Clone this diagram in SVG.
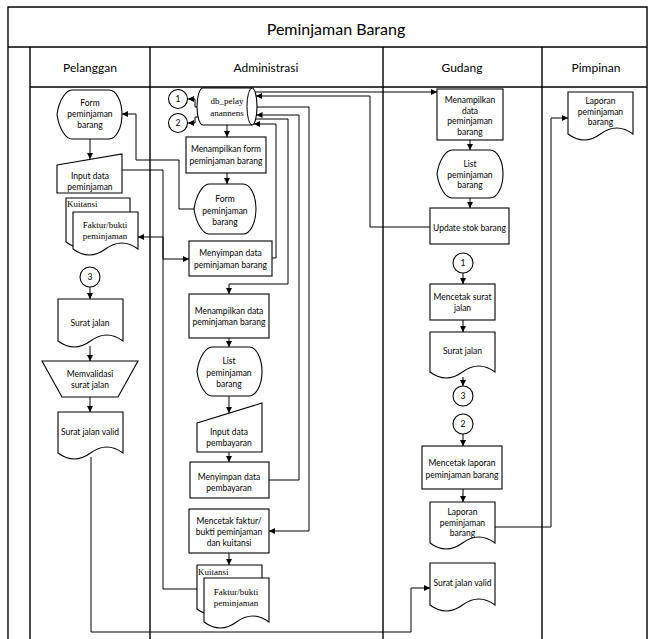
<svg xmlns="http://www.w3.org/2000/svg" width="649" height="639" viewBox="0 0 649 639">
<style>
.t{font-family:Lato,"Open Sans",sans-serif;font-size:8.5px;text-anchor:middle;dominant-baseline:central;fill:#000}
.s{font-family:"Liberation Serif",serif;font-size:9px;text-anchor:middle;dominant-baseline:central;fill:#000}
.k{font-family:"Liberation Serif",serif;font-size:9px;dominant-baseline:central;fill:#000}
.h{font-family:Lato,"Open Sans",sans-serif;font-size:12px;text-anchor:middle;dominant-baseline:central;fill:#000}
.sh{fill:#fff;stroke:#000;stroke-width:1.1}
.ln{fill:none;stroke:#000;stroke-width:1}
.lane{fill:none;stroke:#000;stroke-width:1.4}
</style>
<defs>
<marker id="ar" markerUnits="userSpaceOnUse" markerWidth="7" markerHeight="6" refX="6" refY="3" orient="auto">
<path d="M0,0 L6,3 L0,6 Z" fill="#000"/>
</marker>
</defs>
<rect width="649" height="639" fill="#fff"/>
<g id="frame">
<path class="lane" d="M8,645 V7 H647 V645 M8,47 H647 M30,87 H647 M30,47 V645 M150,47 V645 M383,47 V645 M542,47 V645"/>
<text x="336" y="28" class="h" style="font-size:16px">Peminjaman Barang</text>
<text x="90" y="67" class="h">Pelanggan</text>
<text x="266" y="67" class="h">Administrasi</text>
<text x="462" y="67" class="h">Gudang</text>
<text x="596" y="67" class="h">Pimpinan</text>
</g>
<g id="connectors" class="ln" marker-end="url(#ar)">
<path d="M90,139 V159"/>
<path d="M122,170 H163 V259 H189"/>
<path d="M194,209 H179 V160 H136 V114 H122"/>
<path d="M197,589 H163 V237 H138"/>
<path d="M90,287 V299"/>
<path d="M90,346 V361"/>
<path d="M90,397 V412"/>
<path d="M91,457 V632 H411 V588 H430"/>
<path d="M198,107 H195 V99 H188"/>
<path d="M198,117 H195 V123 H188"/>
<path d="M227,125 V137"/>
<path d="M227,173 V184"/>
<path d="M272,258 H276 V124 H254"/>
<path d="M256,119 H288 V284 H229 V294"/>
<path d="M269,480 H299 V115 H256.5"/>
<path d="M257,107 H309 V531 H269"/>
<path d="M255,92 H437"/>
<path d="M430,227 H370 V96 H256"/>
<path d="M229,338 V347"/>
<path d="M229,396 V413"/>
<path d="M229,452 V462"/>
<path d="M229,553 V565"/>
<path d="M470,140 V150"/>
<path d="M470,198 V208"/>
<path d="M463,273 V284"/>
<path d="M463,320 V332"/>
<path d="M463,377 V386"/>
<path d="M463,434 V446"/>
<path d="M463,489 V502"/>
<path d="M495,527 H551 V118 H568"/>
</g>
<g id="pel-form">
<path class="sh" d="M57,114.5 C59,100 66,90 72,90 H109 A13 24.5 0 0 1 109,139 H72 C66,139 59,129 57,114.5 Z"/>
<text class="t" x="90" y="103">Form</text><text class="t" x="90" y="114">peminjaman</text><text class="t" x="90" y="125">barang</text>
</g>
<g id="pel-input">
<path class="sh" d="M57,165 L122,154 V193 H57 Z"/>
<text class="t" x="90" y="176">Input data</text><text class="t" x="90" y="187">peminjaman</text>
</g>
<g id="pel-faktur">
<path class="sh" d="M66,198 H130 V242 Q114,230 98,242 T66,242 Z"/>
<path class="sh" d="M73,212 H138 V249 Q121.75,237 105.5,249 T73,249 Z"/>
<text class="k" x="67" y="204">Kuitansi</text>
<text class="s" x="105" y="225">Faktur/bukti</text><text class="s" x="105" y="236">peminjaman</text>
</g>
<g id="pel-c3">
<circle class="sh" cx="90" cy="277" r="10"/><text class="t" x="90" y="277">3</text>
</g>
<g id="pel-suratjalan">
<path class="sh" d="M58,299 H123 V341 Q106.75,329 90.5,341 T58,341 Z"/>
<text class="t" x="90" y="323">Surat jalan</text>
</g>
<g id="pel-validasi">
<path class="sh" d="M42,361 H138 L118,397 H62 Z"/>
<text class="t" x="90" y="374">Memvalidasi</text><text class="t" x="90" y="385">surat jalan</text>
</g>
<g id="pel-valid">
<path class="sh" d="M58,412 H123 V453 Q106.75,441 90.5,453 T58,453 Z"/>
<text class="t" x="90" y="432">Surat jalan valid</text>
</g>
<g id="adm-c1"><circle class="sh" cx="178" cy="99" r="9.5"/><text class="t" x="178" y="99">1</text></g>
<g id="adm-c2"><circle class="sh" cx="178" cy="123" r="9.5"/><text class="t" x="178" y="123">2</text></g>
<g id="adm-db">
<path class="sh" d="M203,88 H252 A5 18.5 0 0 1 252,125 H203 A6 18.5 0 0 1 203,88 Z"/>
<path class="ln" d="M252,88 A5 18.5 0 0 0 252,125"/>
<text class="s" x="227" y="101">db_pelay</text><text class="s" x="227" y="113">anannens</text>
</g>
<g id="adm-tampilform">
<rect class="sh" x="186" y="137" width="80" height="36"/>
<text class="t" x="226" y="149">Menampilkan form</text><text class="t" x="226" y="161">peminjaman barang</text>
</g>
<g id="adm-form">
<path class="sh" d="M194,209 C196,195 203,184 209,184 H243 A13 25 0 0 1 243,234 H209 C203,234 196,223 194,209 Z"/>
<text class="t" x="225" y="199">Form</text><text class="t" x="225" y="211">peminjaman</text><text class="t" x="225" y="222">barang</text>
</g>
<g id="adm-simpan">
<rect class="sh" x="189" y="241" width="83" height="35"/>
<text class="t" x="230.5" y="253">Menyimpan data</text><text class="t" x="230.5" y="265">peminjaman barang</text>
</g>
<g id="adm-tampildata">
<rect class="sh" x="189" y="294" width="80" height="44"/>
<text class="t" x="229" y="311">Menampilkan data</text><text class="t" x="229" y="322">peminjaman barang</text>
</g>
<g id="adm-list">
<path class="sh" d="M197,371.5 C199,357 206,347 212,347 H249 A13 24.5 0 0 1 249,396 H212 C206,396 199,386 197,371.5 Z"/>
<text class="t" x="229" y="361">List</text><text class="t" x="229" y="373">peminjaman</text><text class="t" x="229" y="384">barang</text>
</g>
<g id="adm-input">
<path class="sh" d="M197,423 L262,403 V452 H197 Z"/>
<text class="t" x="229" y="432">Input data</text><text class="t" x="229" y="443">pembayaran</text>
</g>
<g id="adm-simpanbayar">
<rect class="sh" x="190" y="462" width="79" height="36"/>
<text class="t" x="229" y="477">Menyimpan data</text><text class="t" x="229" y="488">pembayaran</text>
</g>
<g id="adm-cetak">
<rect class="sh" x="189" y="509" width="80" height="44"/>
<text class="t" x="229" y="521">Mencetak faktur/</text><text class="t" x="229" y="532">bukti peminjaman</text><text class="t" x="229" y="543">dan kuitansi</text>
</g>
<g id="adm-faktur">
<path class="sh" d="M197,565 H262 V609 Q245.75,597 229.5,609 T197,609 Z"/>
<path class="sh" d="M204,578 H269 V622 Q252.75,610 236.5,622 T204,622 Z"/>
<text class="k" x="198" y="572">Kuitansi</text>
<text class="s" x="236" y="592">Faktur/bukti</text><text class="s" x="236" y="603">peminjaman</text>
</g>
<g id="gud-tampil">
<rect class="sh" x="437" y="89" width="66" height="51"/>
<text class="t" x="470" y="100">Menampilkan</text><text class="t" x="470" y="111">data</text><text class="t" x="470" y="121">peminjaman</text><text class="t" x="470" y="132">barang</text>
</g>
<g id="gud-list">
<path class="sh" d="M437,174 C439,160 446,150 452,150 H490 A13 24 0 0 1 490,198 H452 C446,198 439,188 437,174 Z"/>
<text class="t" x="470" y="164">List</text><text class="t" x="470" y="175">peminjaman</text><text class="t" x="470" y="185">barang</text>
</g>
<g id="gud-update">
<rect class="sh" x="430" y="208" width="79" height="36"/>
<text class="t" x="469.5" y="228">Update stok barang</text>
</g>
<g id="gud-c1"><circle class="sh" cx="463" cy="263" r="10"/><text class="t" x="463" y="263">1</text></g>
<g id="gud-cetaksj">
<rect class="sh" x="430" y="284" width="65" height="36"/>
<text class="t" x="462.5" y="297">Mencetak surat</text><text class="t" x="462.5" y="308">jalan</text>
</g>
<g id="gud-sj">
<path class="sh" d="M430,332 H495 V372 Q478.75,360 462.5,372 T430,372 Z"/>
<text class="t" x="462.5" y="351">Surat jalan</text>
</g>
<g id="gud-c3"><circle class="sh" cx="463" cy="396" r="10"/><text class="t" x="463" y="396">3</text></g>
<g id="gud-c2"><circle class="sh" cx="463" cy="424" r="10"/><text class="t" x="463" y="424">2</text></g>
<g id="gud-cetaklap">
<rect class="sh" x="422" y="446" width="80" height="43"/>
<text class="t" x="462" y="463">Mencetak laporan</text><text class="t" x="462" y="475">peminjaman barang</text>
</g>
<g id="gud-lap">
<path class="sh" d="M430,502 H495 V543 Q478.75,531 462.5,543 T430,543 Z"/>
<text class="t" x="462.5" y="512">Laporan</text><text class="t" x="462.5" y="523">peminjaman</text><text class="t" x="462.5" y="533">barang</text>
</g>
<g id="gud-valid">
<path class="sh" d="M430,563 H495 V605 Q478.75,593 462.5,605 T430,605 Z"/>
<text class="t" x="462.5" y="583">Surat jalan valid</text>
</g>
<g id="pim-lap">
<path class="sh" d="M568,92 H633 V134 Q616.75,122 600.5,134 T568,134 Z"/>
<text class="t" x="600.5" y="101">Laporan</text><text class="t" x="600.5" y="112">peminjaman</text><text class="t" x="600.5" y="122">barang</text>
</g>
</svg>
